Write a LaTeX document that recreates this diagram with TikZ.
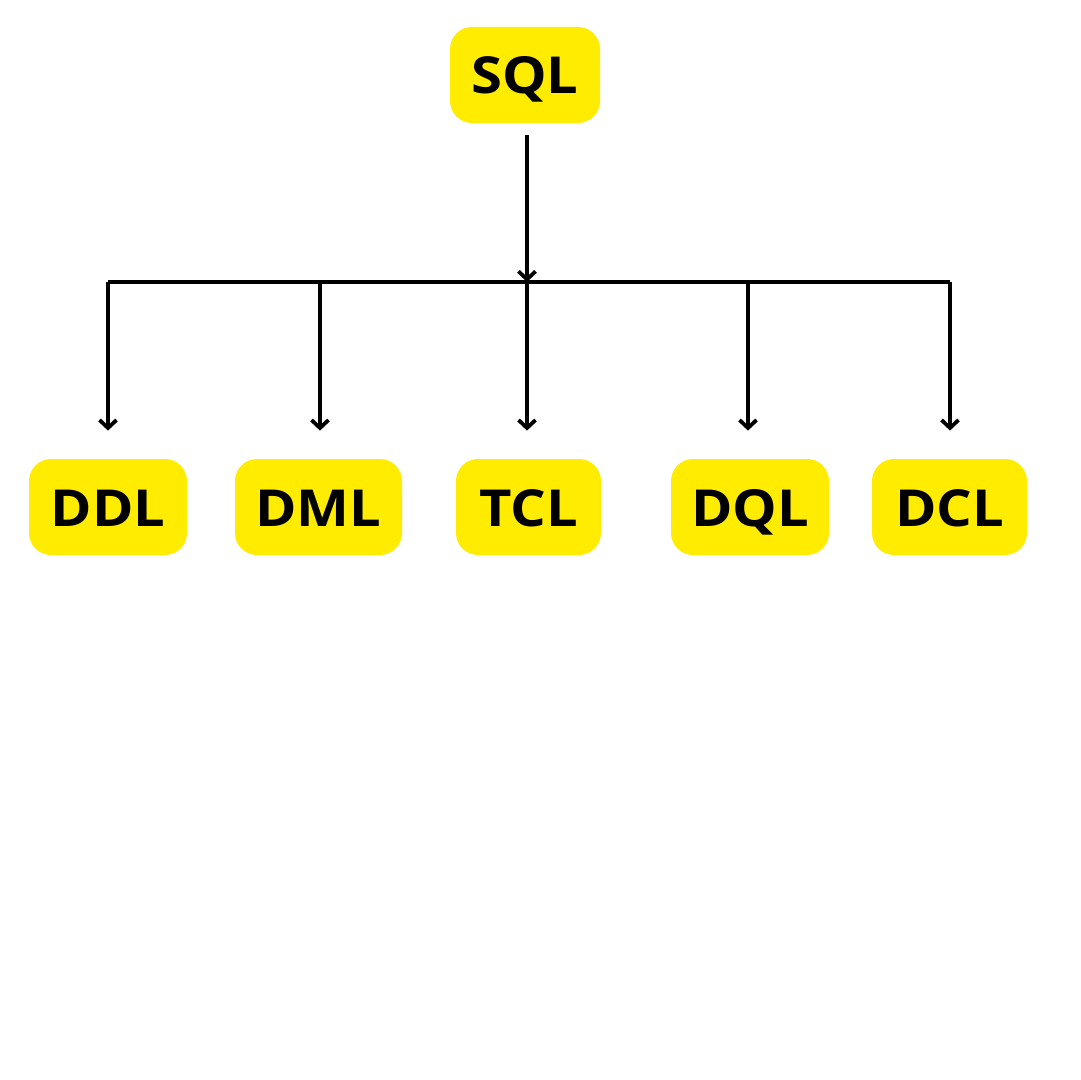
\documentclass[tikz,border=0pt]{standalone}
\usepackage{fontspec}
\setmainfont{Open Sans}
\newfontfamily\boxfont[FakeStretch=1.1]{Open Sans}
\usetikzlibrary{arrows.meta}
\definecolor{sqlyellow}{HTML}{FFEC00}
\begin{document}
\begin{tikzpicture}[x=0.5pt, y=-0.5pt,
		box/.style={fill=sqlyellow, rounded corners=11pt, minimum height=48pt, inner sep=0pt,
			text height=19pt, text depth=0pt, font=\boxfont\fontsize{25.5}{25.5}\selectfont\bfseries},
		link/.style={line width=1.9pt, -{Straight Barb[length=4pt, width=8.5pt, line width=1.9pt]}}]
		\useasboundingbox (0,0) rectangle (1080,1080);

		\node[box, minimum width=75pt] (sql) at (525,75) {SQL};

		\node[box, minimum width=79pt] (ddl) at (108,507) {DDL};
		\node[box, minimum width=83.5pt] (dml) at (318.5,507) {DML};
		\node[box, minimum width=72.5pt] (tcl) at (528.5,507) {TCL};
		\node[box, minimum width=79pt] (dql) at (750,507) {DQL};
		\node[box, minimum width=77.5pt] (dcl) at (949.5,507) {DCL};

		% branching bar
		\coordinate (top) at (527,135);
		\coordinate (hub) at (527,282);
		\coordinate (b1) at (108,282);
		\coordinate (b2) at (320,282);
		\coordinate (b3) at (527,282);
		\coordinate (b4) at (748,282);
		\coordinate (b5) at (950,282);

		\draw[link] (top) -- (hub);
		\draw[line width=1.9pt] (b1) -- (b5);
		\draw[link, shorten >=14pt] (b1) -- (b1 |- ddl.north);
		\draw[link, shorten >=14pt] (b2) -- (b2 |- dml.north);
		\draw[link, shorten >=14pt] (b3) -- (b3 |- tcl.north);
		\draw[link, shorten >=14pt] (b4) -- (b4 |- dql.north);
		\draw[link, shorten >=14pt] (b5) -- (b5 |- dcl.north);

	\end{tikzpicture}
\end{document}
